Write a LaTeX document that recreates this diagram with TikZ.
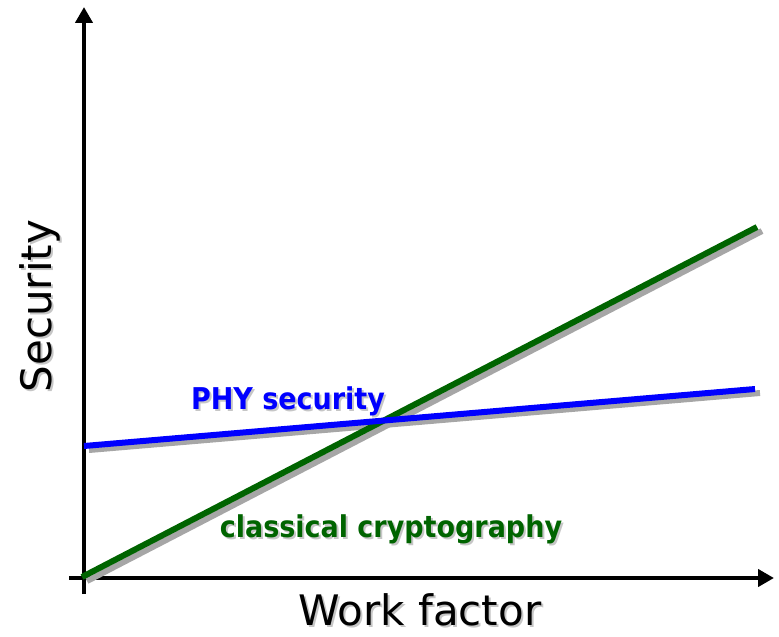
\documentclass[tikz,border=0pt]{standalone}
\usepackage{fontspec}
\setmainfont{DejaVu Sans}
\newfontfamily\condfont{DejaVu Sans Condensed}
\usetikzlibrary{arrows.meta}

\definecolor{cryptogreen}{RGB}{0,100,0}
\definecolor{phyblue}{RGB}{0,0,255}

\begin{document}
\begin{tikzpicture}[x=0.5pt,y=-0.5pt,
    axis/.style={line width=2.1pt,-{Triangle[length=8pt,width=8.5pt]}},
    curve/.style={line width=3pt},
    shade/.style={line width=3pt,gray!70},
    lbl/.style={font=\condfont\bfseries\fontsize{15}{18}\selectfont},
    title/.style={font=\fontsize{21}{24}\selectfont},
    txtshade/.style={text=gray!45}]
    \useasboundingbox (0,0) rectangle (779,636);

    % Axes
    \coordinate (O) at (84,578);
    \coordinate (xstart) at (69,578);
    \coordinate (ystart) at (84,594);
    \coordinate (xtip) at (774,578);
    \coordinate (ytip) at (84,7);
    \draw[axis] (xstart) -- (xtip);
    \draw[axis] (ystart) -- (ytip);

    % End points of the two lines
    \coordinate (c0) at (82,577);
    \coordinate (c1) at (757,227);
    \coordinate (p0) at (84,446);
    \coordinate (p1) at (755,389);

    % Shadows (offset down right)
    \draw[shade] ([shift={(5,4)}]c0) -- ([shift={(5,4)}]c1);
    \draw[shade] ([shift={(5,4)}]p0) -- ([shift={(5,4)}]p1);

    % Lines
    \draw[curve,cryptogreen] (c0) -- (c1);
    \draw[curve,phyblue] (p0) -- (p1);

    % Labels with shadow
    \node[lbl,txtshade] (phyS) at (290,403) {PHY security};
    \node[lbl,text=phyblue] (phy) at (288,401) {PHY security};
    \node[lbl,txtshade] (cryptoS) at (393,531) {classical cryptography};
    \node[lbl,text=cryptogreen] (crypto) at (391,529) {classical cryptography};

    % Axis titles
    \node[title,txtshade] (xlabS) at (422,612) {Work factor};
    \node[title] (xlab) at (420,610) {Work factor};
    \node[title,txtshade,rotate=90] (ylabS) at (42,308) {Security};
    \node[title,rotate=90] (ylab) at (40,306) {Security};
\end{tikzpicture}
\end{document}
